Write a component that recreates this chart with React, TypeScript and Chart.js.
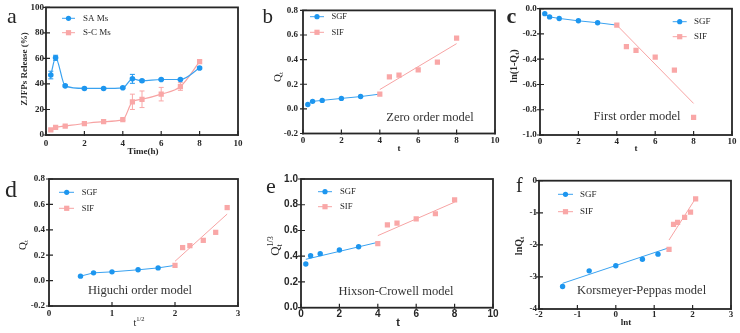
import React, { useEffect, useRef } from 'react';
import { Chart, registerables } from 'chart.js';

Chart.register(...registerables);

const SERIF = "'Liberation Serif', 'Times New Roman', serif";
const SANS = "'Liberation Sans', Arial, sans-serif";
const BLUE = '#1D96EF';
const BLUE_LINE = '#3AA2F0';
const PINK = '#F9A7A7';
const PINK_LINE = '#F7A3A3';
const INK = '#262626';

// (a) ZJFPs cumulative release, %
const timeH = [0.25, 0.5, 1, 2, 3, 4, 4.5, 5, 6, 7, 8];
const saRelease = [47, 60.5, 38.5, 36.5, 36.5, 37, 44, 42.5, 43.5, 43.5, 52.5];
const saError = [3, 2, 0.8, 0.8, 0.6, 0.6, 3.5, 0.8, 0.6, 0.8, 0.8];
const scRelease = [4, 6, 7, 9, 10.5, 12, 26, 28, 32, 38, 57.5];
const scError = [0.8, 0.8, 0.6, 0.6, 0.6, 0.6, 6, 6.5, 5.3, 3, 1];

// (b–f) release kinetics: SGF stage and SIF stage
const sgfT = [0.25, 0.5, 1, 2, 3];
const sifT = [4, 4.5, 5, 6, 7, 8];
const sgfQt = [0.035, 0.061, 0.069, 0.085, 0.1];
const sifQt = [0.12, 0.26, 0.275, 0.317, 0.38, 0.575];
const sgfLn1mQ = [-0.039, -0.065, -0.077, -0.096, -0.111];
const sifLn1mQ = [-0.13, -0.3, -0.33, -0.384, -0.486, -0.86];
const sgfSqrtT = [0.5, 0.707, 1, 1.414, 1.732];
const sifSqrtT = [2, 2.121, 2.236, 2.449, 2.646, 2.828];
const sgfCbrtQ = [0.34, 0.404, 0.42, 0.448, 0.474];
const sifCbrtQ = [0.497, 0.643, 0.658, 0.69, 0.73, 0.837];
const sgfLnT = [-1.386, -0.693, 0, 0.693, 1.099];
const sifLnT = [1.386, 1.504, 1.609, 1.792, 1.946, 2.079];
const sgfLnQ = [-3.3, -2.81, -2.65, -2.45, -2.29];
const sifLnQ = [-2.14, -1.36, -1.3, -1.14, -0.98, -0.57];

// fitted lines: [start, end]
const zeroSifFitX = [4, 8];
const zeroSifFitY = [0.157, 0.53];
const firstSifFitX = [4, 8];
const firstSifFitY = [-0.13, -0.75];
const higuchiSifFitX = [2, 2.828];
const higuchiSifFitY = [0.152, 0.524];
const hixsonSgfFitX = [0.25, 4];
const hixsonSgfFitY = [0.376, 0.508];
const hixsonSifFitX = [4, 8];
const hixsonSifFitY = [0.56, 0.82];
const kpSgfFitX = [-1.386, 1.386];
const kpSgfFitY = [-3.2, -2.09];
const kpSifFitX = [1.386, 2.079];
const kpSifFitY = [-1.85, -0.55];

// tick values
const ticksTime = [0, 2, 4, 6, 8, 10];
const ticksPercent = [0, 20, 40, 60, 80, 100];
const ticksQt = [-0.2, 0, 0.2, 0.4, 0.6, 0.8];
const ticksLn1mQ = [-1, -0.8, -0.6, -0.4, -0.2, 0];
const ticksSqrtT = [0, 1, 2, 3];
const ticksCbrtQ = [0, 0.2, 0.4, 0.6, 0.8, 1];
const ticksLnT = [-2, -1, 0, 1, 2, 3];
const ticksLnQ = [-4, -3, -2, -1, 0];

const seriesNamesA = ['SA Ms', 'S-C Ms'];
const seriesNames = ['SGF', 'SIF'];

type Seg = { t: string; size: number; bold?: boolean; family?: string; dy?: number; hold?: boolean };
type Pt = { x: number; y: number };

const pts = (xs: number[], ys: number[]): Pt[] => xs.map((x, i) => ({ x, y: ys[i] }));

const bluePoints = (data: Pt[]) => ({
  data,
  showLine: false,
  pointStyle: 'circle',
  pointRadius: 2.7,
  pointBackgroundColor: BLUE,
  pointBorderColor: BLUE,
  pointBorderWidth: 0,
});
const pinkPoints = (data: Pt[]) => ({
  data,
  showLine: false,
  pointStyle: 'rect',
  pointRadius: 3.7,
  pointBackgroundColor: PINK,
  pointBorderColor: PINK,
  pointBorderWidth: 0,
});
const line = (data: Pt[], color: string, width = 1) => ({
  data,
  showLine: true,
  pointRadius: 0,
  borderColor: color,
  borderWidth: width,
  tension: 0,
});

interface Spec {
  key: string;
  row: number;
  L: number;
  R: number;
  T: number;
  B: number;
  xTicks: number[];
  yTicks: number[];
  xDec: number;
  yDec: number;
  tickFamily: string;
  tickSize: number;
  xPad: number;
  yPad: number;
  datasets: any[];
  errorBars?: { ds: number; err: number[]; color: string }[];
  letter: { t: string; x: number; y: number; size: number; bold?: boolean };
  legend: { names: string[]; x1: number; x2: number; mx: number; tx: number; ys: number[]; size: number };
  model?: { t: string; x: number; y: number };
  xTitle: { segs: Seg[]; x: number; y: number; family: string };
  yTitle: { segs: Seg[]; x: number; y: number; family: string };
}

const specs: Spec[] = [
  {
    key: 'a', row: 0, L: 46, R: 238, T: 7, B: 135,
    xTicks: ticksTime, yTicks: ticksPercent, xDec: 0, yDec: 0,
    tickFamily: SERIF, tickSize: 9, xPad: 3, yPad: 2,
    datasets: [
      {
        data: pts(timeH, saRelease), showLine: true, borderColor: BLUE_LINE, borderWidth: 1.2,
        cubicInterpolationMode: 'monotone', pointStyle: 'circle', pointRadius: 2.8,
        pointBackgroundColor: BLUE, pointBorderColor: BLUE, pointBorderWidth: 0,
      },
      {
        data: pts(timeH, scRelease), showLine: true, borderColor: PINK_LINE, borderWidth: 1.2,
        cubicInterpolationMode: 'monotone', pointStyle: 'rect', pointRadius: 3.7,
        pointBackgroundColor: PINK, pointBorderColor: PINK, pointBorderWidth: 0,
      },
    ],
    errorBars: [
      { ds: 0, err: saError, color: BLUE },
      { ds: 1, err: scError, color: PINK },
    ],
    letter: { t: 'a', x: 7, y: 23, size: 22 },
    legend: { names: seriesNamesA, x1: 62, x2: 75, mx: 68.5, tx: 83, ys: [18.3, 32.7], size: 9 },
    xTitle: { segs: [{ t: 'Time(h)', size: 9, bold: true }], x: 143, y: 152, family: SERIF },
    yTitle: { segs: [{ t: 'ZJFPs Release (%)', size: 9, bold: true }], x: 25, y: 69, family: SERIF },
  },
  {
    key: 'b', row: 0, L: 303, R: 495, T: 6, B: 133.5,
    xTicks: ticksTime, yTicks: ticksQt, xDec: 0, yDec: 1,
    tickFamily: SERIF, tickSize: 9, xPad: 2, yPad: 5,
    datasets: [
      bluePoints(pts(sgfT, sgfQt)),
      pinkPoints(pts(sifT, sifQt)),
      line(pts(sgfT, sgfQt).concat([{ x: sifT[0], y: sifQt[0] }]), BLUE_LINE),
      line(pts(zeroSifFitX, zeroSifFitY), PINK_LINE),
    ],
    letter: { t: 'b', x: 262.5, y: 23, size: 21 },
    legend: { names: seriesNames, x1: 310, x2: 324, mx: 317, tx: 331.5, ys: [16.7, 32.3], size: 8.5 },
    model: { t: 'Zero order model', x: 430, y: 117.3 },
    xTitle: { segs: [{ t: 't', size: 9, bold: true }], x: 399, y: 149, family: SERIF },
    yTitle: { segs: [{ t: 'Q', size: 11 }, { t: 't', size: 7, dy: 3 }], x: 278, y: 77, family: SERIF },
  },
  {
    key: 'c', row: 0, L: 540, R: 732, T: 7, B: 135,
    xTicks: ticksTime, yTicks: ticksLn1mQ, xDec: 0, yDec: 1,
    tickFamily: SERIF, tickSize: 9, xPad: 1.5, yPad: 3.3,
    datasets: [
      bluePoints(pts(sgfT, sgfLn1mQ)),
      pinkPoints(pts(sifT, sifLn1mQ)),
      line(pts(sgfT, sgfLn1mQ).concat([{ x: sifT[0], y: sifLn1mQ[0] }]), BLUE_LINE),
      line(pts(firstSifFitX, firstSifFitY), PINK_LINE),
    ],
    letter: { t: 'c', x: 506.5, y: 23, size: 22, bold: true },
    legend: { names: seriesNames, x1: 672.7, x2: 686.7, mx: 679.7, tx: 694, ys: [21.7, 36.7], size: 9 },
    model: { t: 'First order model', x: 637, y: 116.7 },
    xTitle: { segs: [{ t: 't', size: 9, bold: true }], x: 636, y: 149, family: SERIF },
    yTitle: {
      segs: [{ t: 'ln(1-Q', size: 10, bold: true }, { t: 't', size: 6.5, bold: true, dy: 3 }, { t: ')', size: 10, bold: true }],
      x: 514, y: 66, family: SERIF,
    },
  },
  {
    key: 'd', row: 1, L: 49, R: 238, T: 179, B: 306,
    xTicks: ticksSqrtT, yTicks: ticksQt, xDec: 0, yDec: 1,
    tickFamily: SERIF, tickSize: 9, xPad: 2, yPad: 4,
    datasets: [
      bluePoints(pts(sgfSqrtT, sgfQt)),
      pinkPoints(pts(sifSqrtT, sifQt)),
      line(pts(sgfSqrtT, sgfQt).concat([{ x: sifSqrtT[0], y: sifQt[0] }]), BLUE_LINE),
      line(pts(higuchiSifFitX, higuchiSifFitY), PINK_LINE),
    ],
    letter: { t: 'd', x: 5, y: 196.7, size: 24 },
    legend: { names: seriesNames, x1: 59, x2: 74, mx: 66.7, tx: 81.7, ys: [192.3, 208.3], size: 8.5 },
    model: { t: 'Higuchi order model', x: 140, y: 291 },
    xTitle: { segs: [{ t: 't', size: 10 }, { t: '1/2', size: 6.5, dy: -4 }], x: 139, y: 323, family: SERIF },
    yTitle: { segs: [{ t: 'Q', size: 11 }, { t: 't', size: 7, dy: 3 }], x: 23, y: 245, family: SERIF },
  },
  {
    key: 'e', row: 1, L: 301, R: 493, T: 179, B: 307.7,
    xTicks: ticksTime, yTicks: ticksCbrtQ, xDec: 0, yDec: 1,
    tickFamily: SANS, tickSize: 10, xPad: 0.5, yPad: 3,
    datasets: [
      bluePoints(pts(sgfT, sgfCbrtQ)),
      pinkPoints(pts(sifT, sifCbrtQ)),
      line(pts(hixsonSgfFitX, hixsonSgfFitY), BLUE_LINE),
      line(pts(hixsonSifFitX, hixsonSifFitY), PINK_LINE),
    ],
    letter: { t: 'e', x: 266, y: 193, size: 22 },
    legend: { names: seriesNames, x1: 318, x2: 332, mx: 325, tx: 340, ys: [191.7, 206.7], size: 8.7 },
    model: { t: 'Hixson-Crowell model', x: 396, y: 291.7 },
    xTitle: { segs: [{ t: 't', size: 11, bold: true }], x: 398, y: 323, family: SANS },
    yTitle: {
      segs: [{ t: 'Q', size: 13 }, { t: 't', size: 8, dy: 4, hold: true }, { t: '1/3', size: 8, dy: -5 }],
      x: 276, y: 246, family: SERIF,
    },
  },
  {
    key: 'f', row: 1, L: 539, R: 731, T: 180.7, B: 309,
    xTicks: ticksLnT, yTicks: ticksLnQ, xDec: 0, yDec: 0,
    tickFamily: SERIF, tickSize: 9, xPad: 0.5, yPad: 2,
    datasets: [
      bluePoints(pts(sgfLnT, sgfLnQ)),
      pinkPoints(pts(sifLnT, sifLnQ)),
      line(pts(kpSgfFitX, kpSgfFitY), BLUE_LINE),
      line(pts(kpSifFitX, kpSifFitY), PINK_LINE),
    ],
    letter: { t: 'f', x: 516, y: 192, size: 20 },
    legend: { names: seriesNames, x1: 558, x2: 573, mx: 565.5, tx: 580, ys: [194.3, 211.7], size: 9 },
    model: { t: 'Korsmeyer-Peppas model', x: 641.5, y: 291 },
    xTitle: { segs: [{ t: 'lnt', size: 9, bold: true }], x: 626, y: 323, family: SERIF },
    yTitle: { segs: [{ t: 'lnQ', size: 10, bold: true }, { t: 't', size: 6.5, bold: true, dy: 3 }], x: 519, y: 246, family: SERIF },
  },
];

function boxOf(s: Spec) {
  const x0 = Math.max(0, Math.floor(s.L - 62));
  const y0 = s.row === 0 ? 0 : 165;
  const right = Math.min(740, Math.ceil(s.R + 12));
  const bottom = s.row === 0 ? 165 : 333;
  return { x0, y0, w: right - x0, h: bottom - y0 };
}

const fontOf = (s: Seg, fam: string) => `${s.bold ? 'bold ' : ''}${s.size}px ${s.family ?? fam}`;

function drawRich(ctx: CanvasRenderingContext2D, segs: Seg[], cx: number, cy: number, rotate: boolean, fam: string) {
  ctx.save();
  ctx.translate(cx, cy);
  if (rotate) ctx.rotate(-Math.PI / 2);
  let total = 0;
  for (const s of segs) {
    ctx.font = fontOf(s, fam);
    if (!s.hold) total += ctx.measureText(s.t).width;
  }
  let x = -total / 2;
  ctx.textBaseline = 'middle';
  ctx.textAlign = 'left';
  for (const s of segs) {
    ctx.font = fontOf(s, fam);
    ctx.fillText(s.t, x, s.dy ?? 0);
    if (!s.hold) x += ctx.measureText(s.t).width;
  }
  ctx.restore();
}

function decor(s: Spec, box: { x0: number; y0: number }) {
  return {
    id: 'decor',
    beforeDatasetsDraw(chart: any) {
      if (!s.errorBars) return;
      const ctx: CanvasRenderingContext2D = chart.ctx;
      const xs = chart.scales.x;
      const ys = chart.scales.y;
      ctx.save();
      ctx.lineWidth = 1;
      for (const eb of s.errorBars) {
        const data: Pt[] = chart.data.datasets[eb.ds].data;
        ctx.strokeStyle = eb.color;
        data.forEach((p, i) => {
          const e = eb.err[i];
          const px = xs.getPixelForValue(p.x);
          const yt = ys.getPixelForValue(p.y + e);
          const yb = ys.getPixelForValue(p.y - e);
          ctx.beginPath();
          ctx.moveTo(px, yt);
          ctx.lineTo(px, yb);
          ctx.moveTo(px - 2.5, yt);
          ctx.lineTo(px + 2.5, yt);
          ctx.moveTo(px - 2.5, yb);
          ctx.lineTo(px + 2.5, yb);
          ctx.stroke();
        });
      }
      ctx.restore();
    },
    afterDraw(chart: any) {
      const ctx: CanvasRenderingContext2D = chart.ctx;
      const { left, top, right, bottom } = chart.chartArea;
      const xs = chart.scales.x;
      const ys = chart.scales.y;
      ctx.save();
      ctx.strokeStyle = INK;
      ctx.lineWidth = 1.2;
      ctx.beginPath();
      xs.ticks.forEach((t: any) => {
        const px = xs.getPixelForValue(t.value);
        ctx.moveTo(px, bottom - 4);
        ctx.lineTo(px, bottom + 1);
      });
      ys.ticks.forEach((t: any) => {
        const py = ys.getPixelForValue(t.value);
        ctx.moveTo(left - 3, py);
        ctx.lineTo(left + 4, py);
      });
      ctx.stroke();
      ctx.lineWidth = 1.8;
      ctx.strokeRect(left, top, right - left, bottom - top);

      ctx.translate(-box.x0, -box.y0);
      ctx.fillStyle = INK;

      // panel letter
      ctx.textBaseline = 'alphabetic';
      ctx.textAlign = 'left';
      ctx.font = `${s.letter.bold ? 'bold ' : ''}${s.letter.size}px ${SERIF}`;
      ctx.fillText(s.letter.t, s.letter.x, s.letter.y);

      // legend
      const lg = s.legend;
      lg.names.forEach((name, i) => {
        const y = lg.ys[i];
        const isBlue = i === 0;
        ctx.strokeStyle = isBlue ? BLUE_LINE : PINK_LINE;
        ctx.lineWidth = 1;
        ctx.beginPath();
        ctx.moveTo(lg.x1, y);
        ctx.lineTo(lg.x2, y);
        ctx.stroke();
        ctx.fillStyle = isBlue ? BLUE : PINK;
        if (isBlue) {
          ctx.beginPath();
          ctx.arc(lg.mx, y, 2.6, 0, Math.PI * 2);
          ctx.fill();
        } else {
          ctx.fillRect(lg.mx - 2.6, y - 2.6, 5.2, 5.2);
        }
        ctx.fillStyle = INK;
        ctx.font = `${lg.size}px ${SERIF}`;
        ctx.textBaseline = 'middle';
        ctx.textAlign = 'left';
        ctx.fillText(name, lg.tx, y);
      });

      // model name
      if (s.model) {
        ctx.fillStyle = '#333';
        ctx.font = `12.5px ${SERIF}`;
        ctx.textAlign = 'center';
        ctx.textBaseline = 'middle';
        ctx.fillText(s.model.t, s.model.x, s.model.y);
      }

      // axis titles
      ctx.fillStyle = INK;
      drawRich(ctx, s.xTitle.segs, s.xTitle.x, s.xTitle.y, false, s.xTitle.family);
      drawRich(ctx, s.yTitle.segs, s.yTitle.x, s.yTitle.y, true, s.yTitle.family);
      ctx.restore();
    },
  };
}

function fmt(v: number, dec: number) {
  const val = Math.abs(v) < 1e-9 ? 0 : v;
  return val.toFixed(dec);
}

function Panel({ spec }: { spec: Spec }) {
  const ref = useRef<HTMLCanvasElement>(null);
  const box = boxOf(spec);
  useEffect(() => {
    const b = boxOf(spec);
    const tickFont = { family: spec.tickFamily, size: spec.tickSize, weight: 'bold' as const };
    const axis = (vals: number[], dec: number, pad: number, fit: (sc: any) => void, position: string) => ({
      type: 'linear',
      position,
      min: vals[0],
      max: vals[vals.length - 1],
      afterBuildTicks: (sc: any) => {
        sc.ticks = vals.map((value) => ({ value }));
      },
      afterFit: fit,
      grid: { display: false, drawTicks: false },
      border: { display: false },
      ticks: {
        font: tickFont,
        color: INK,
        padding: pad,
        maxRotation: 0,
        autoSkip: false,
        callback: (v: number) => fmt(Number(v), dec),
      },
    });
    const chart = new Chart(ref.current as HTMLCanvasElement, {
      type: 'scatter',
      data: { datasets: spec.datasets },
      options: {
        responsive: false,
        maintainAspectRatio: false,
        animation: false,
        layout: {
          padding: { left: 0, top: spec.T - b.y0, right: b.x0 + b.w - spec.R, bottom: 0 },
        },
        plugins: { legend: { display: false }, tooltip: { enabled: false } },
        scales: {
          x: axis(spec.xTicks, spec.xDec, spec.xPad, (sc: any) => { sc.height = b.y0 + b.h - spec.B; }, 'bottom'),
          y: axis(spec.yTicks, spec.yDec, spec.yPad, (sc: any) => { sc.width = spec.L - b.x0; }, 'left'),
        },
      } as any,
      plugins: [decor(spec, b)],
    } as any);
    return () => chart.destroy();
  }, [spec]);
  return (
    <canvas
      ref={ref}
      width={box.w}
      height={box.h}
      style={{ position: 'absolute', left: box.x0, top: box.y0, width: box.w, height: box.h }}
    />
  );
}

export default function App() {
  return (
    <div style={{ position: 'fixed', left: 0, top: 0, width: 740, height: 333, background: '#fff', overflow: 'hidden' }}>
      {specs.map((s) => (
        <Panel key={s.key} spec={s} />
      ))}
    </div>
  );
}
